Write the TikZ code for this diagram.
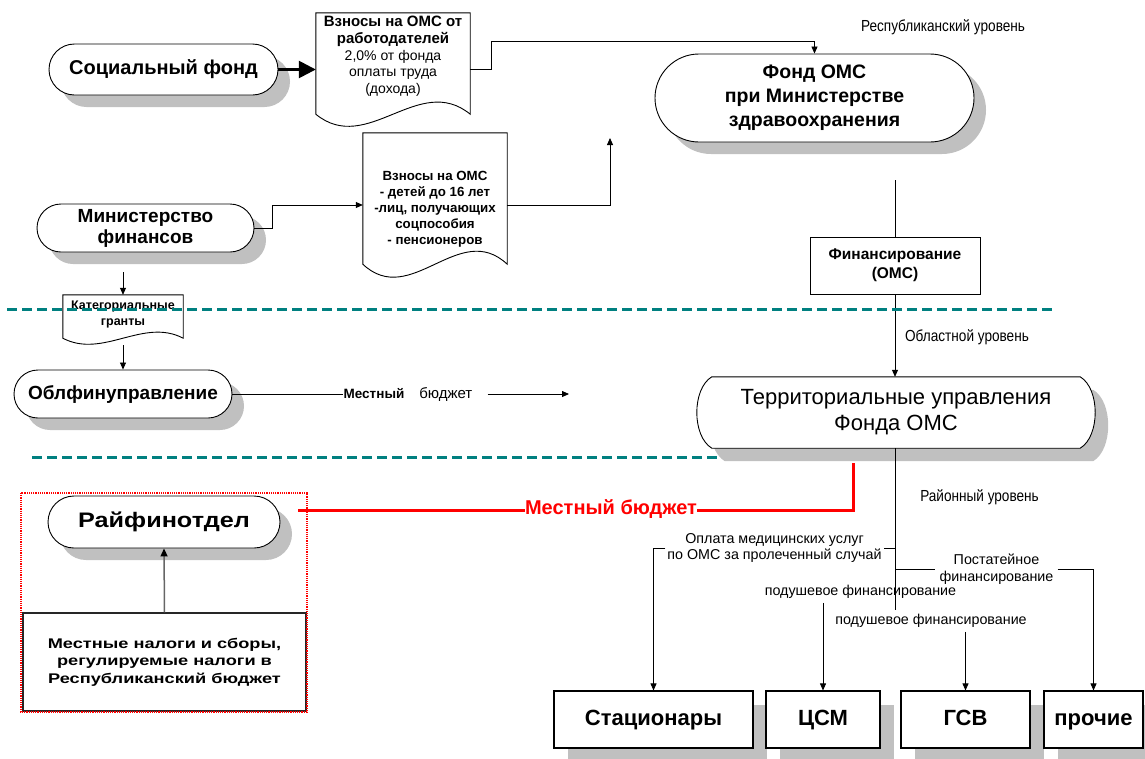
\documentclass[tikz,border=0pt]{standalone}
\usepackage{fontspec}
\setmainfont{Liberation Sans}
\newfontfamily\narrowfont{Liberation Sans}[FakeStretch=0.85]
\newfontfamily\widefont{Liberation Sans}[FakeStretch=1.2]
\newfontfamily\widerfont{Liberation Sans}[FakeStretch=1.3]
\usetikzlibrary{shapes.misc,shadows,arrows.meta,calc,backgrounds}
\definecolor{shgray}{RGB}{192,192,192}
\definecolor{tealdash}{RGB}{0,128,128}
\definecolor{redline}{RGB}{255,0,0}
\newcommand\fs[2]{\fontsize{#1}{#2}\selectfont}
\newcommand\docwave[2]{%
  \draw[fill=white, line width=0.9pt] (#1.south west) -- (#1.north west) -- (#1.north east) -- (#1.south east)
    .. controls ($(#1.south east)!0.333!(#1.south west)+(0,-#2)$) and ($(#1.south east)!0.667!(#1.south west)+(0,#2)$) .. (#1.south west) -- cycle;}
\newcommand\terrshape[1]{%
  \path[#1] (terr.north west) -- (terr.north east)
    .. controls ([xshift=20pt,yshift=-12pt]terr.north east) and ([xshift=20pt,yshift=12pt]terr.south east) .. (terr.south east)
    -- (terr.south west)
    .. controls ([xshift=-20pt,yshift=12pt]terr.south west) and ([xshift=-20pt,yshift=-12pt]terr.north west) .. (terr.north west) -- cycle;}
\tikzset{
  stadium/.style={rounded rectangle, draw, line width=0.9pt, fill=white, inner sep=0pt, align=center,
    drop shadow={shadow xshift=12pt, shadow yshift=-12pt, fill=shgray, draw=none, opacity=1}},
  boxshape/.style={rectangle, draw, line width=0.9pt, fill=white, inner sep=0pt, align=center},
  shbox/.style={boxshape, line width=1.1pt, text height=16pt, text depth=5pt,
    drop shadow={shadow xshift=14pt, shadow yshift=-14pt, fill=shgray, draw=none, opacity=1}},
  docnode/.style={rectangle, inner sep=0pt},
  lbl/.style={inner sep=0pt, align=center},
  conn/.style={line width=0.8pt},
  arr/.style={conn, -{Triangle[length=7pt,width=6pt]}},
  tealline/.style={tealdash, line width=3pt, dash pattern=on 10pt off 5pt},
}
\begin{document}
\begin{tikzpicture}[x=1pt,y=-1pt]
\useasboundingbox (0,0) rectangle (1145,758);

% ---- stadium nodes
\node[stadium, minimum width=229pt, minimum height=51pt, font={\fs{20}{24}\bfseries}] (soc) at (163.5,69.5) {Социальный фонд};
\node[stadium, minimum width=217pt, minimum height=48pt, font={\fs{19}{21}\bfseries}] (minfin) at (145.5,228) {Министерство\\финансов};
\node[stadium, minimum width=218pt, minimum height=48pt, font={\fs{19}{23}\bfseries}] (obl) at (123,394) {Облфинуправление};
\node[stadium, minimum width=232pt, minimum height=52pt, font={\fs{21}{25}\widefont\bfseries}] (raif) at (164,522) {Райфинотдел};
\node[stadium, minimum width=319pt, minimum height=88pt, font={\fs{19.5}{24}\bfseries}] (fund) at (814.5,98) {Фонд ОМС\\при Министерстве\\здравоохранения};

% ---- boxes
\node[boxshape, minimum width=170pt, minimum height=57pt, font={\fs{15.5}{19}\bfseries}] (fin) at (895,265.5) {Финансирование\\(ОМС)};
\node[lbl, minimum width=368pt, minimum height=71pt, font={\fs{22}{26}}] (terr) at (896,412.5) {Территориальные управления\\Фонда ОМС};
\node[boxshape, line width=1.1pt, draw=black!85, minimum width=283pt, minimum height=98pt, font={\fs{14}{17.5}\widerfont\bfseries}] (taxes) at (164.5,662) {Местные налоги и сборы,\\регулируемые налоги в\\Республиканский бюджет};

\node[shbox, minimum width=199pt, minimum height=57pt, font={\fs{22}{26}\bfseries}] (stac) at (653.5,719.5) {Стационары};
\node[shbox, minimum width=114pt, minimum height=57pt, font={\fs{22}{26}\bfseries}] (csm) at (823,719.5) {ЦСМ};
\node[shbox, minimum width=129pt, minimum height=57pt, font={\fs{22}{26}\bfseries}] (gsv) at (965.5,719.5) {ГСВ};
\node[shbox, minimum width=99pt, minimum height=57pt, font={\fs{22}{26}\bfseries}] (proc) at (1093.5,719.5) {прочие};

% ---- document shapes
\node[docnode, minimum width=154pt, minimum height=101pt] (doc1) at (393,63.5) {};
\node[lbl, font={\fs{14}{16.7}}] (doc1t) at (393,56.5) {{\fs{15}{16.7}\bfseries Взносы на ОМС от}\\{\fs{15}{16.7}\bfseries работодателей}\\2,0\% от фонда\\оплаты труда\\(дохода)};
\node[docnode, minimum width=144pt, minimum height=131pt] (doc2) at (435,198.5) {};
\node[lbl, font={\fs{13.3}{16}\bfseries}] (doc2t) at (435,209.5) {Взносы на ОМС\\- детей до 16 лет\\-лиц, получающих\\соцпособия\\- пенсионеров};
\node[docnode, minimum width=120pt, minimum height=43pt] (kat) at (123,316.5) {};
\node[lbl, font={\fs{12.5}{16}\bfseries}] (katt) at (123,314) {Категориальные\\гранты};

\begin{pgfonlayer}{background}
  \docwave{doc1}{42}
  \docwave{doc2}{45}
  \docwave{kat}{21}
  \terrshape{fill=shgray, transform canvas={shift={(13pt,-13pt)}}}
  \terrshape{draw, fill=white, line width=0.9pt}
\end{pgfonlayer}

% ---- level labels
\node[lbl, font={\fs{16}{19}\narrowfont}] (replvl) at (943,27) {Республиканский уровень};
\node[lbl, font={\fs{16}{19}\narrowfont}] (obllvl) at (967,337) {Областной уровень};
\node[lbl, font={\fs{16}{19}\narrowfont}] (railvl) at (979.5,497) {Районный уровень};

% ---- top connectors
\draw[line width=2.6pt, -{Triangle[length=17pt,width=17pt]}] (soc.east) -- (soc.east -| doc1.west);
\draw[arr] (doc1.east |- soc.east) -- ++(21,0) |- ([yshift=12pt]fund.north) -- (fund.north);
\draw[arr] (minfin.east) -- ++(18,0) |- ([yshift=-6.5pt]doc2.west);
\coordinate (up1) at (610,138);
\draw[arr] ([yshift=-6.5pt]doc2.east) -| (up1);
\coordinate (mfout) at (123,272);
\draw[arr] (mfout) -- (mfout |- kat.north);
\draw[arr] ([yshift=-7pt]kat.south) -- (obl.north);

% ---- Облфинуправление -> местный бюджет
\node[lbl] (mbud) at (408,394) {{\fs{13.5}{16}\bfseries Местный}\hspace{15pt}{\fs{15}{18}бюджет}};
\draw[conn] (obl.east) -- (mbud.west);
\coordinate (mbend) at (569,394);
\draw[arr] ([xshift=15pt]mbud.east) -- (mbend);

% ---- fund -> territorial
\coordinate (fundout) at (895,180);
\draw[conn] (fundout) -- (fin.north);
\draw[arr] (fin.south) -- (fin.south |- terr.north);

% ---- district level
\node[lbl, inner xsep=2pt, font={\fs{14.3}{16}}] (opl) at (774.5,548) {Оплата медицинских услуг\\по ОМС за пролеченный случай};
\node[lbl, inner xsep=4pt, font={\fs{14.3}{17}}] (post) at (996.5,569.5) {Постатейное\\финансирование};
\node[lbl, inner ysep=4pt, font={\fs{14.3}{16}}] (pod1) at (860.5,592) {подушевое финансирование};
\node[lbl, inner ysep=4pt, font={\fs{14.3}{16}}] (pod2) at (931,621) {подушевое финансирование};

\draw[conn] (fin.south |- terr.south) -- ++(0,162);
\draw[conn] (opl.east -| fin.south) -- (opl.east);
\draw[arr] (opl.west) -| (stac.north);
\draw[conn] (post.west -| fin.south) -- (post.west);
\draw[arr] (post.east) -| (proc.north);
\draw[arr] (csm.north |- pod1.south) -- (csm.north);
\draw[arr] (gsv.north |- pod2.south) -- (gsv.north);

% ---- red local budget
\node[lbl, text=redline, font={\fs{20}{24}\bfseries}] (mbred) at (611,509) {Местный бюджет};
\coordinate (rstart) at (298,510);
\coordinate (rend) at (853,463);
\draw[redline, line width=3pt] (rstart) -- (rstart -| mbred.west);
\draw[redline, line width=3pt] (rstart -| mbred.east) -| (rend);

% ---- taxes -> Райфинотдел
\draw[line width=1.5pt, draw=black!60, -{Triangle[length=8pt,width=7pt,color=black]}] (taxes.north) -- (raif.south);
\draw[redline, line width=1.3pt, dash pattern=on 1.2pt off 1pt] (21,493) rectangle (307,712);

% ---- level separators
\draw[tealline] (7,309) -- (1052,309);
\draw[tealline] (32,457) -- (719,457);
\end{tikzpicture}
\end{document}
